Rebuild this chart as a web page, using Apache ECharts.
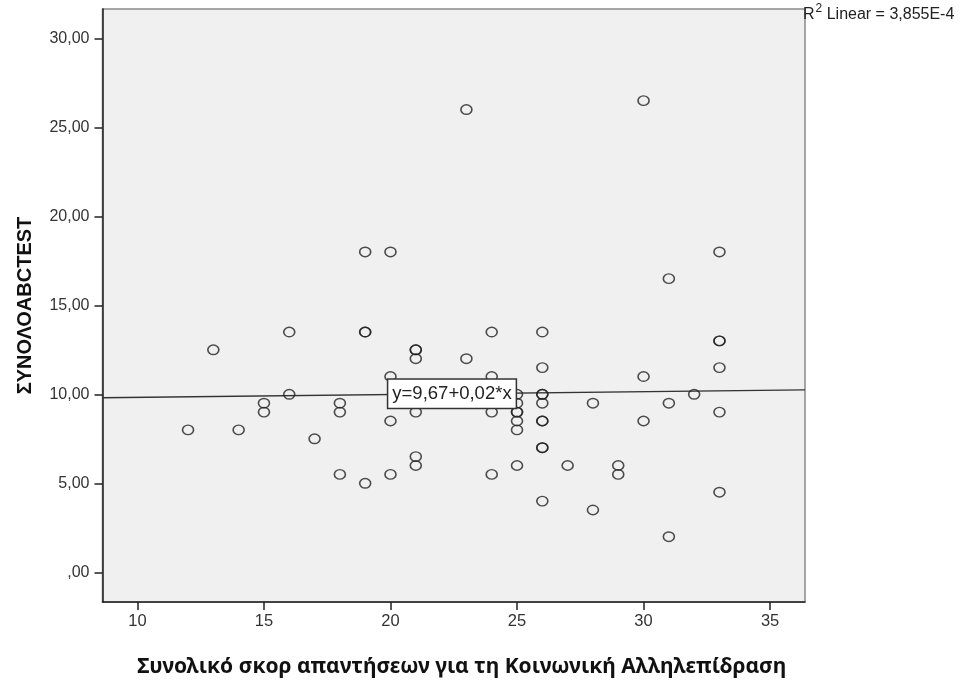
<!DOCTYPE html>
<html>
<head>
<meta charset="utf-8">
<script src="https://cdn.jsdelivr.net/npm/echarts@6/dist/echarts.min.js"></script>
<style>
html,body{margin:0;padding:0;background:#fff;}
#c{width:962px;height:693px;}
</style>
</head>
<body>
<div id="c"></div>
<script>
// Data
const socialScores = [12,13,14,15,15,16,16,17,18,18,18,19,19,19,19,20,20,20,20,21,21,21,21,21,21,23,23,24,24,24,24,25,25,25,25,25,25,25,26,26,26,26,26,26,26,26,26,26,27,28,28,29,29,30,30,30,31,31,31,32,33,33,33,33,33,33];
const abcTotals    = [8,12.5,8,9.5,9,13.5,10,7.5,9.5,9,5.5,18,13.5,13.5,5,18,11,8.5,5.5,12.5,12.5,12,9,6.5,6,26,12,13.5,11,9,5.5,10,9.5,9,9,8.5,8,6,13.5,11.5,10,10,9.5,8.5,8.5,7,7,4,6,9.5,3.5,6,5.5,26.5,11,8.5,16.5,9.5,2,10,18,13,13,11.5,9,4.5];
const xTicks = [10,15,20,25,30,35];
const yTicks = [0,5,10,15,20,25,30];
const fitIntercept = 9.67;
const fitSlope = 0.016;
const fitLabel = 'y=9,67+0,02*x';
const r2Text = '3,855E-4';
const xTitle = 'Συνολικό σκορ απαντήσεων για τη Κοινωνική Αλληλεπίδραση';
const yTitle = 'ΣΥΝΟΛΟABCTEST';

const xMin = 8.62, xMax = 36.38, yMin = -1.67, yMax = 31.65;
const points = socialScores.map((x,i)=>[x, abcTotals[i]]);
const fitLine = [[xMin, fitIntercept + fitSlope*xMin],[xMax, fitIntercept + fitSlope*xMax]];
const labelX = 22.43;

const fmtY = v => {
  let s = v.toFixed(2).replace('.', ',');
  if (s.startsWith('0,')) s = s.substring(1);
  return s;
};

const chart = echarts.init(document.getElementById('c'), null, {renderer:'canvas'});
chart.setOption({
  animation:false,
  backgroundColor:'#ffffff',
  grid:{left:102.5, right:157, top:9, bottom:91, show:true, backgroundColor:'#f0f0f0', borderColor:'#8a8a8a', borderWidth:1.5},
  xAxis:{
    type:'value', min:xMin, max:xMax,
    name:xTitle, nameLocation:'middle', nameGap:55,
    nameTextStyle:{fontFamily:'Noto Sans', fontWeight:'bold', fontSize:21, color:'#111', padding:[0,0,0,16]},
    axisLine:{show:true, onZero:false, lineStyle:{color:'#222', width:1.5}},
    axisTick:{show:true, length:8, lineStyle:{color:'#222', width:1.5}, customValues:xTicks},
    axisLabel:{customValues:xTicks, margin:11, fontFamily:'Liberation Sans', fontSize:16.5, color:'#333'},
    splitLine:{show:false}
  },
  yAxis:{
    type:'value', min:yMin, max:yMax,
    name:yTitle, nameLocation:'middle', nameGap:67, nameRotate:90,
    nameTextStyle:{fontFamily:'Liberation Sans', fontWeight:'bold', fontSize:20, color:'#111'},
    axisLine:{show:true, onZero:false, lineStyle:{color:'#222', width:1.5}},
    axisTick:{show:true, length:8, lineStyle:{color:'#222', width:1.5}, customValues:yTicks},
    axisLabel:{customValues:yTicks, margin:13, fontFamily:'Liberation Sans', fontSize:16, color:'#333', formatter:fmtY},
    splitLine:{show:false}
  },
  series:[
    {
      type:'line', data:fitLine, symbol:'none', silent:true,
      lineStyle:{color:'#333', width:1.3}, z:2,
      markPoint:{
        symbol:'rect', symbolSize:0,
        data:[{coord:[labelX, fitIntercept + fitSlope*labelX]}],
        label:{show:true, position:'inside', formatter:fitLabel, fontFamily:'Liberation Sans', fontSize:18.5, color:'#222',
          backgroundColor:'#ffffff', borderColor:'#333', borderWidth:1.5, padding:[5,4,4,4]},
        z:10
      }
    },
    {
      type:'scatter', data:points, symbol:'circle', symbolSize:[11,9.5], z:3,
      itemStyle:{color:'rgba(0,0,0,0)', borderColor:'#222', borderWidth:1.5}
    }
  ],
  graphic:[
    {type:'text', left:803, top:3, style:{
      text:'{r|R}{s|2}{r| Linear = ' + r2Text + '}',
      rich:{
        r:{fontFamily:'Liberation Sans', fontSize:16, fill:'#222', verticalAlign:'bottom', lineHeight:20},
        s:{fontFamily:'Liberation Sans', fontSize:12, fill:'#222', verticalAlign:'top', lineHeight:20, padding:[0,0,0,1]}
      }
    }}
  ]
});
</script>
</body>
</html>
